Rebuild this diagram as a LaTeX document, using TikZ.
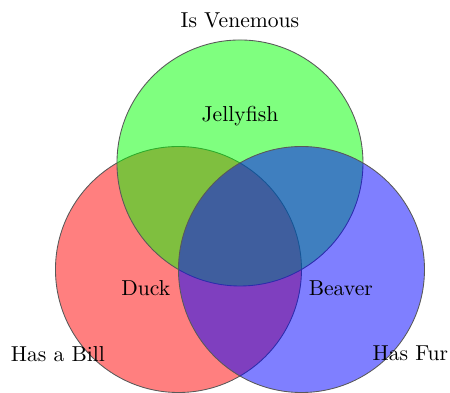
\documentclass[tikz,border=0pt]{standalone}
\usepackage{tikz}
\usetikzlibrary{positioning}
\tikzset{>=latex}

\begin{document}
\begin{tikzpicture}[set/.style={circle, draw=black!65, line width=0.4pt, minimum size=4cm, fill opacity=0.5}]
		\useasboundingbox (-3.902,-3.724) rectangle (3.415,2.650);
		\node[set, fill=red] (bill) at (-1,-1.732) {};
		\node[set, fill=green] (venom) at (0,0) {};
		\node[set, fill=blue] (fur) at (1,-1.732) {};
		\node (venomlbl) at (0,2.325) {Is Venemous};
		\node (billlbl) at (-2.96,-3.1) {Has a Bill};
		\node (furlbl) at (2.77,-3.1) {Has Fur};
		\node (jelly) at (0,0.764) {Jellyfish};
		\node (duck) at (-1.53,-2.03) {Duck};
		\node (beaver) at (1.64,-2.03) {Beaver};
	\end{tikzpicture}
\end{document}
